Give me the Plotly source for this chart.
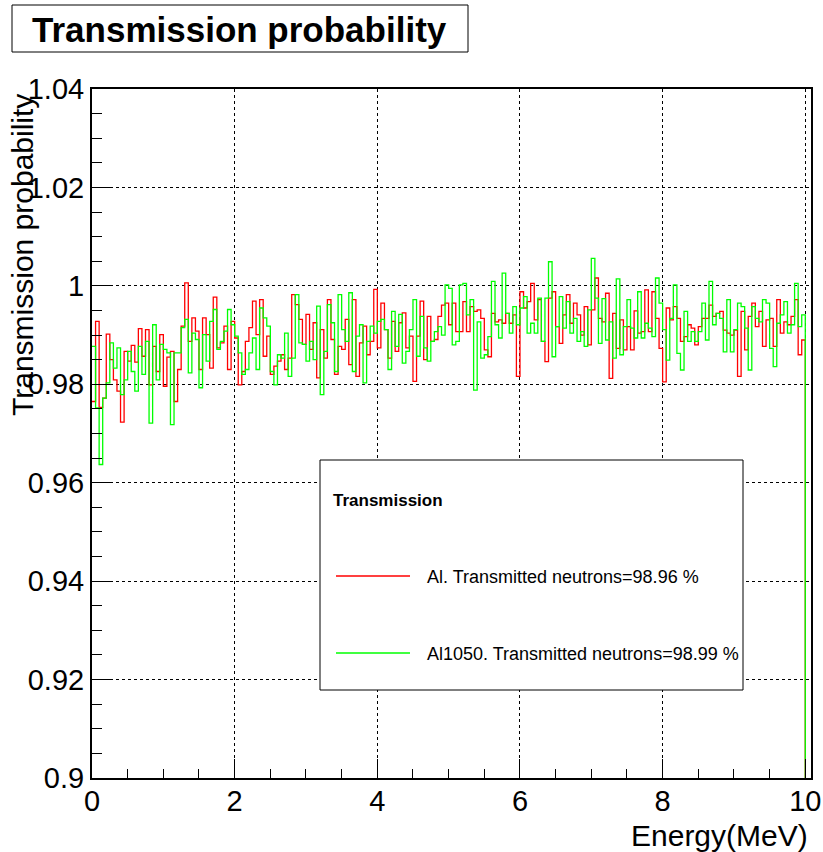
import numpy as np
import plotly.graph_objects as go

# Histogram binning: 200 bins of 0.05 MeV from 0 to 10 MeV, plus one empty bin past 10 MeV
n_bins = 200
e_min, e_max = 0.0, 10.0
e_overflow_edge = 10.1

# Transmission probability per energy bin, Al
al_transmission = [
    0.9765, 0.9928, 0.9753, 0.9772, 0.9902, 0.9850, 0.9809, 0.9786, 0.9723, 0.9867,
    0.9847, 0.9879, 0.9845, 0.9913, 0.9857, 0.9911, 0.9799, 0.9877, 0.9826, 0.9901,
    0.9796, 0.9855, 0.9867, 0.9765, 0.9830, 0.9918, 1.0006, 0.9887, 0.9935, 0.9908,
    0.9830, 0.9935, 0.9901, 0.9833, 0.9977, 0.9874, 0.9884, 0.9918, 0.9830, 0.9928,
    0.9894, 0.9799, 0.9826, 0.9887, 0.9915, 0.9969,
    0.9901,
    0.9972, 0.9857, 0.9898, 0.9820, 0.9837, 0.9847, 0.9860, 0.9830, 0.9853, 0.9982,
    0.9962, 0.9932, 0.9881, 0.9942, 0.9871, 0.9925, 0.9813, 0.9911, 0.9853, 0.9972,
    0.9891, 0.9820, 0.9877, 0.9871, 0.9932, 0.9840, 0.9972, 0.9816, 0.9884, 0.9918,
    0.9860, 0.9887, 0.9993, 0.9874, 0.9965, 0.9911, 0.9853, 0.9928, 0.9867, 0.9925,
    0.9945, 0.9874, 0.9898, 0.9806, 0.9898, 0.9969, 0.9850, 0.9938, 0.9887, 0.9891,
    0.9938, 0.9961, 0.9965, 0.9921, 0.9965, 0.9907, 0.9907, 0.9968, 0.9907, 0.9958,
    0.9948, 0.9951, 0.9934, 0.9870, 0.9856, 0.9944, 0.9927, 0.9931, 0.9924, 0.9944,
    0.9924, 0.9941, 0.9816, 0.9988, 0.9955, 0.9968, 1.0005, 0.9931, 0.9972, 0.9887,
    0.9846, 0.9975, 0.9988, 0.9917, 0.9883, 0.9941, 0.9982, 0.9924, 0.9965, 0.9941,
    0.9900, 0.9958, 0.9880, 0.9951, 1.0016, 0.9934, 0.9927, 0.9985, 0.9812,
    0.9944, 0.9873, 0.9931, 0.9870, 0.9917, 0.9870, 0.9949, 0.9904, 0.9907, 0.9992,
    0.9907, 0.9988, 0.9934, 0.9873, 0.9805,
    0.9955, 0.9931, 0.9958, 0.9934, 0.9887, 0.9897, 0.9921, 0.9914, 0.9880, 0.9917,
    0.9934, 0.9934, 0.9961, 0.9938, 0.9944, 0.9948, 0.9910, 0.9904, 0.9900, 0.9910,
    0.9816, 0.9948, 0.9870, 0.9938, 0.9965, 0.9917, 0.9948, 0.9877, 0.9931, 0.9934,
    0.9877, 0.9972, 0.9904, 0.9927, 0.9921, 0.9938, 0.9972, 0.9860, 0.9890,
]

# Transmission probability per energy bin, Al1050
al1050_transmission = [
    0.9877, 0.9752, 0.9637, 0.9772, 0.9803, 0.9884, 0.9833, 0.9874, 0.9779, 0.9809,
    0.9867, 0.9826, 0.9786, 0.9877, 0.9820, 0.9887, 0.9721, 0.9921, 0.9809, 0.9881,
    0.9871, 0.9864, 0.9718, 0.9864, 0.9864, 0.9915, 0.9932, 0.9823, 0.9904, 0.9891,
    0.9793, 0.9901, 0.9847, 0.9928, 0.9952, 0.9871, 0.9887, 0.9908, 0.9952, 0.9921,
    0.9898, 0.9864, 0.9820, 0.9830, 0.9864, 0.9894, 0.9830, 0.9955,
    0.9935, 0.9918, 0.9826, 0.9799, 0.9860, 0.9853, 0.9904, 0.9816, 0.9853, 0.9982,
    0.9884, 0.9881, 0.9847, 0.9887, 0.9850, 0.9959, 0.9779, 0.9867, 0.9962, 0.9925,
    0.9826, 0.9982, 0.9911, 0.9887, 0.9986, 0.9826, 0.9898, 0.9921, 0.9803, 0.9887,
    0.9918, 0.9904, 0.9928, 0.9932, 0.9911, 0.9830, 0.9948, 0.9877, 0.9942, 0.9843,
    0.9867, 0.9911, 0.9972, 0.9857, 0.9938, 0.9874, 0.9847,
    0.9887, 0.9907, 0.9917, 0.9900, 1.0002, 0.9995, 0.9880, 0.9887, 1.0002, 1.0005,
    0.9941, 0.9972, 0.9788, 0.9927, 0.9853, 0.9860, 0.9897, 1.0009, 0.9921, 0.9894,
    1.0026, 0.9944, 0.9904, 0.9958, 0.9921, 0.9955, 0.9978, 0.9904, 0.9924, 0.9904,
    0.9975, 0.9887, 0.9975, 1.0049, 0.9856, 0.9917, 0.9978, 0.9914, 0.9968, 0.9904,
    0.9934, 0.9887, 0.9907, 0.9877, 0.9951, 1.0056, 0.9975,
    0.9883, 0.9974, 0.9890, 0.9927, 0.9853, 1.0014, 0.9860, 0.9917, 0.9972, 0.9914,
    0.9894, 0.9988, 0.9894, 0.9924, 0.9914, 0.9897, 1.0016, 0.9965, 0.9911, 0.9849,
    0.9934, 1.0002, 0.9863, 0.9829, 0.9948, 0.9887, 0.9907, 0.9887, 0.9907, 0.9965,
    0.9890, 1.0009, 0.9921, 0.9944, 0.9934, 0.9866, 0.9972, 0.9866, 0.9911, 0.9965,
    0.9958, 0.9914, 0.9829, 0.9958, 0.9934, 0.9927, 0.9972, 0.9965, 0.9873, 0.9836,
    0.9924, 0.9941, 0.9968, 0.9904, 0.9921, 1.0005, 0.9917, 0.9941,
]

assert len(al_transmission) == n_bins
assert len(al1050_transmission) == n_bins

series_names = ["Al. Transmitted neutrons=98.96 %", "Al1050. Transmitted neutrons=98.99 %"]
series_colors = ["#ff0000", "#00ff00"]

x_tick_vals = [0, 2, 4, 6, 8, 10]
x_tick_text = ["0", "2", "4", "6", "8", "10"]
y_tick_vals = [0.90, 0.92, 0.94, 0.96, 0.98, 1.00, 1.02, 1.04]
y_tick_text = ["0.9", "0.92", "0.94", "0.96", "0.98", "1", "1.02", "1.04"]

FONT = "Liberation Sans, Arial, Helvetica, sans-serif"

edges = np.linspace(e_min, e_max, n_bins + 1)
step_x = list(edges) + [e_overflow_edge]


def step_y(values):
    # bin contents followed by the empty overflow bin, closed at its right edge
    return list(values) + [0.0, 0.0]


fig = go.Figure()
for vals, name, col in zip([al_transmission, al1050_transmission], series_names, series_colors):
    fig.add_trace(go.Scatter(
        x=step_x, y=step_y(vals), mode="lines", line=dict(color=col, width=1.3, shape="hv"),
        name=name, showlegend=False, hoverinfo="skip",
    ))

axis_common = dict(
    showline=True, linecolor="black", linewidth=2, mirror=True,
    ticks="inside", tickcolor="black", tickwidth=1,
    showgrid=True, gridcolor="black", griddash="dot", gridwidth=1,
    zeroline=False, tickfont=dict(family=FONT, size=29, color="black"),
    tickmode="array",
)

fig.update_xaxes(
    **axis_common, range=[0, 10.08], tickvals=x_tick_vals, ticktext=x_tick_text, ticklen=19,
    ticklabelstandoff=-4,
    minor=dict(tickmode="linear", tick0=0, dtick=0.5, ticks="inside", ticklen=9,
               tickcolor="black", showgrid=False),
)
fig.update_yaxes(
    **axis_common, range=[0.9, 1.04], tickvals=y_tick_vals, ticktext=y_tick_text, ticklen=21,
    minor=dict(tickmode="linear", tick0=0.9, dtick=0.005, ticks="inside", ticklen=10,
               tickcolor="black", showgrid=False),
)

W, H = 823, 852
ml, mr, mt, mb = 92, 12, 89, 74
pw, ph = W - ml - mr, H - mt - mb


def px(xpix):
    return (xpix - ml) / pw


def py(ypix):
    return (H - mb - ypix) / ph


shapes = [
    # title box
    dict(type="rect", xref="paper", yref="paper", x0=px(12), x1=px(468), y0=py(52), y1=py(5),
         line=dict(color="black", width=1), fillcolor="white", layer="above"),
    # legend box
    dict(type="rect", xref="paper", yref="paper", x0=px(320), x1=px(743), y0=py(690), y1=py(460),
         line=dict(color="black", width=1), fillcolor="white", layer="above"),
]
annotations = [
    dict(text="<b>Transmission probability</b>", xref="paper", yref="paper", x=px(239), y=py(29),
         xanchor="center", yanchor="middle", showarrow=False,
         font=dict(family=FONT, size=35, color="black")),
    dict(text="Transmission probability", xref="paper", yref="paper", x=px(22), y=py(255),
         xanchor="center", yanchor="middle", textangle=-90, showarrow=False,
         font=dict(family=FONT, size=30, color="black")),
    dict(text="Energy(MeV)", xref="paper", yref="paper", x=px(810), y=py(835),
         xanchor="right", yanchor="middle", showarrow=False,
         font=dict(family=FONT, size=30, color="black")),
    dict(text="<b>Transmission</b>", xref="paper", yref="paper", x=px(331), y=py(500),
         xanchor="left", yanchor="middle", showarrow=False,
         font=dict(family=FONT, size=17, color="black")),
]
legend_rows_y = [576, 653]
for name, col, ly in zip(series_names, series_colors, legend_rows_y):
    shapes.append(dict(type="line", xref="paper", yref="paper", x0=px(336), x1=px(410),
                       y0=py(ly), y1=py(ly), line=dict(color=col, width=1.3), layer="above"))
    annotations.append(dict(text=name, xref="paper", yref="paper", x=px(425), y=py(ly + 1),
                            xanchor="left", yanchor="middle", showarrow=False,
                            font=dict(family=FONT, size=18, color="black")))

fig.update_layout(
    width=W, height=H, margin=dict(l=ml, r=mr, t=mt, b=mb, autoexpand=False),
    paper_bgcolor="white", plot_bgcolor="white",
    shapes=shapes, annotations=annotations, showlegend=False,
)

fig.write_html("out.html")
